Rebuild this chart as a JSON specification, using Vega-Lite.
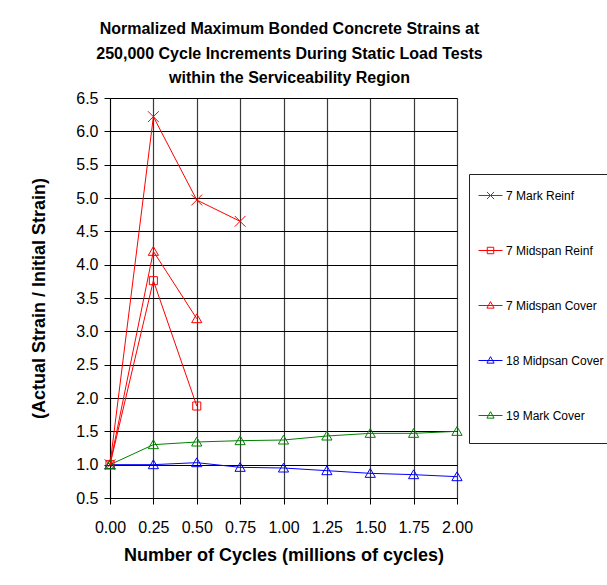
{
  "$schema": "https://vega.github.io/schema/vega-lite/v6.json",
  "width": 347,
  "height": 400,
  "autosize": {"type": "none"},
  "padding": {"left": 110, "top": 98, "right": 150, "bottom": 87},
  "background": "white",
  "title": {
    "text": ["Normalized Maximum Bonded Concrete Strains at", "250,000 Cycle Increments During Static Load Tests", "within the Serviceability Region"],
    "font": "Liberation Sans",
    "fontSize": 16,
    "fontWeight": "bold",
    "lineHeight": 24.5,
    "color": "black",
    "anchor": "middle",
    "dx": 6,
    "offset": 4
  },
  "config": {
    "view": {"stroke": "#808080", "strokeWidth": 1},
    "axis": {
      "labelFont": "Liberation Sans",
      "titleFont": "Liberation Sans",
      "labelColor": "black",
      "titleColor": "black",
      "labelFontSize": 16,
      "titleFontSize": 18,
      "titleFontWeight": "bold",
      "ticks": true,
      "tickColor": "black",
      "tickWidth": 1,
      "domainColor": "black",
      "tickSize": 6,
      "grid": true,
      "gridOpacity": 1,
      "labelFlush": false
    }
  },
  "data": {
    "values": [
      {"series": "7 Mark Reinf", "cycles": 0, "ratio": 1.0},
      {"series": "7 Mark Reinf", "cycles": 0.25, "ratio": 6.22},
      {"series": "7 Mark Reinf", "cycles": 0.5, "ratio": 4.97},
      {"series": "7 Mark Reinf", "cycles": 0.75, "ratio": 4.65},
      {"series": "7 Midspan Reinf", "cycles": 0, "ratio": 1.0},
      {"series": "7 Midspan Reinf", "cycles": 0.25, "ratio": 3.76},
      {"series": "7 Midspan Reinf", "cycles": 0.5, "ratio": 1.88},
      {"series": "7 Midspan Cover", "cycles": 0, "ratio": 1.0},
      {"series": "7 Midspan Cover", "cycles": 0.25, "ratio": 4.2},
      {"series": "7 Midspan Cover", "cycles": 0.5, "ratio": 3.19},
      {"series": "18 Midpsan Cover", "cycles": 0, "ratio": 1.0},
      {"series": "18 Midpsan Cover", "cycles": 0.25, "ratio": 1.0},
      {"series": "18 Midpsan Cover", "cycles": 0.5, "ratio": 1.03},
      {"series": "18 Midpsan Cover", "cycles": 0.75, "ratio": 0.96},
      {"series": "18 Midpsan Cover", "cycles": 1.0, "ratio": 0.95},
      {"series": "18 Midpsan Cover", "cycles": 1.25, "ratio": 0.91},
      {"series": "18 Midpsan Cover", "cycles": 1.5, "ratio": 0.87},
      {"series": "18 Midpsan Cover", "cycles": 1.75, "ratio": 0.85},
      {"series": "18 Midpsan Cover", "cycles": 2.0, "ratio": 0.82},
      {"series": "19 Mark Cover", "cycles": 0, "ratio": 1.0},
      {"series": "19 Mark Cover", "cycles": 0.25, "ratio": 1.3},
      {"series": "19 Mark Cover", "cycles": 0.5, "ratio": 1.34},
      {"series": "19 Mark Cover", "cycles": 0.75, "ratio": 1.36},
      {"series": "19 Mark Cover", "cycles": 1.0, "ratio": 1.37},
      {"series": "19 Mark Cover", "cycles": 1.25, "ratio": 1.43},
      {"series": "19 Mark Cover", "cycles": 1.5, "ratio": 1.47},
      {"series": "19 Mark Cover", "cycles": 1.75, "ratio": 1.47},
      {"series": "19 Mark Cover", "cycles": 2.0, "ratio": 1.5}
    ]
  },
  "encoding": {
    "x": {
      "field": "cycles",
      "type": "quantitative",
      "scale": {"domain": [0, 2], "nice": false, "zero": false},
      "axis": {
        "title": "Number of Cycles (millions of cycles)",
        "values": [0, 0.25, 0.5, 0.75, 1, 1.25, 1.5, 1.75, 2],
        "format": ".2f",
        "labelPadding": 15,
        "titlePadding": 11,
        "grid": true,
        "gridColor": "#3a3a3a",
        "gridWidth": 1.2
      }
    },
    "y": {
      "field": "ratio",
      "type": "quantitative",
      "scale": {"domain": [0.5, 6.5], "nice": false, "zero": false},
      "axis": {
        "title": "(Actual Strain / Initial Strain)",
        "values": [0.5, 1, 1.5, 2, 2.5, 3, 3.5, 4, 4.5, 5, 5.5, 6, 6.5],
        "format": ".1f",
        "labelPadding": 6,
        "titlePadding": 27,
        "grid": true,
        "gridColor": "black",
        "gridWidth": 1
      }
    }
  },
  "layer": [
    {
      "mark": {"type": "line", "strokeWidth": 1},
      "encoding": {
        "color": {
          "field": "series",
          "type": "nominal",
          "scale": {"domain": ["7 Mark Reinf", "7 Midspan Reinf", "7 Midspan Cover", "18 Midpsan Cover", "19 Mark Cover"], "range": ["#FF0000", "#FF0000", "#FF0000", "#0000FF", "#008000"]},
          "legend": null
        }
      }
    },
    {
      "mark": {"type": "point", "filled": false, "size": 144, "strokeWidth": 1, "opacity": 1},
      "encoding": {
        "color": {
          "field": "series",
          "type": "nominal",
          "scale": {"domain": ["7 Mark Reinf", "7 Midspan Reinf", "7 Midspan Cover", "18 Midpsan Cover", "19 Mark Cover"], "range": ["#FF0000", "#FF0000", "#FF0000", "#0000FF", "#008000"]},
          "legend": null
        },
        "shape": {
          "field": "series",
          "type": "nominal",
          "scale": {"domain": ["7 Mark Reinf", "7 Midspan Reinf", "7 Midspan Cover", "18 Midpsan Cover", "19 Mark Cover"], "range": ["M-0.9,-0.9L0.9,0.9M-0.9,0.9L0.9,-0.9", "M-0.67,-0.67H0.67V0.67H-0.67Z", "M0,-0.8L0.85,0.67H-0.85Z", "M0,-0.8L0.85,0.67H-0.85Z", "M0,-0.8L0.85,0.67H-0.85Z"]},
          "legend": null
        }
      }
    },
    {
      "mark": {"type": "point", "filled": false, "size": 100, "strokeWidth": 1, "opacity": 0},
      "encoding": {
        "color": {
          "field": "series",
          "type": "nominal",
          "scale": {"domain": ["7 Mark Reinf", "7 Midspan Reinf", "7 Midspan Cover", "18 Midpsan Cover", "19 Mark Cover"], "range": ["#FF0000", "#FF0000", "#FF0000", "#0000FF", "#008000"]},
          "legend": {
            "title": null,
            "orient": "none",
            "legendX": 359,
            "legendY": 76,
            "padding": 9,
            "strokeColor": "#222",
            "fillColor": "white",
            "symbolSize": 576,
            "symbolStrokeWidth": 1,
            "symbolOpacity": 1,
            "symbolFillColor": "transparent",
            "rowPadding": 18,
            "labelOffset": 3,
            "labelFont": "Liberation Sans",
            "labelFontSize": 12,
            "labelColor": "black",
            "labelLimit": 200
          }
        },
        "shape": {
          "field": "series",
          "type": "nominal",
          "scale": {"domain": ["7 Mark Reinf", "7 Midspan Reinf", "7 Midspan Cover", "18 Midpsan Cover", "19 Mark Cover"], "range": ["M0,-1.375L0,-1.375M0,1.375L0,1.375M-1,0H1M-0.3,-0.3L0.3,0.3M-0.3,0.3L0.3,-0.3", "M0,-1.375L0,-1.375M0,1.375L0,1.375M-1,0H1M-0.27,-0.27H0.27V0.27H-0.27Z", "M0,-1.375L0,-1.375M0,1.375L0,1.375M-1,0H1M0,-0.32L0.3,0.22H-0.3Z", "M0,-1.375L0,-1.375M0,1.375L0,1.375M-1,0H1M0,-0.32L0.3,0.22H-0.3Z", "M0,-1.375L0,-1.375M0,1.375L0,1.375M-1,0H1M0,-0.32L0.3,0.22H-0.3Z"]},
          "legend": {
            "title": null,
            "orient": "none",
            "legendX": 359,
            "legendY": 76,
            "padding": 9,
            "strokeColor": "#222",
            "fillColor": "white",
            "symbolSize": 576,
            "symbolStrokeWidth": 1,
            "symbolOpacity": 1,
            "symbolFillColor": "transparent",
            "rowPadding": 18,
            "labelOffset": 3,
            "labelFont": "Liberation Sans",
            "labelFontSize": 12,
            "labelColor": "black",
            "labelLimit": 200
          }
        }
      }
    }
  ],
  "resolve": {"scale": {"color": "independent", "shape": "independent"}}
}
